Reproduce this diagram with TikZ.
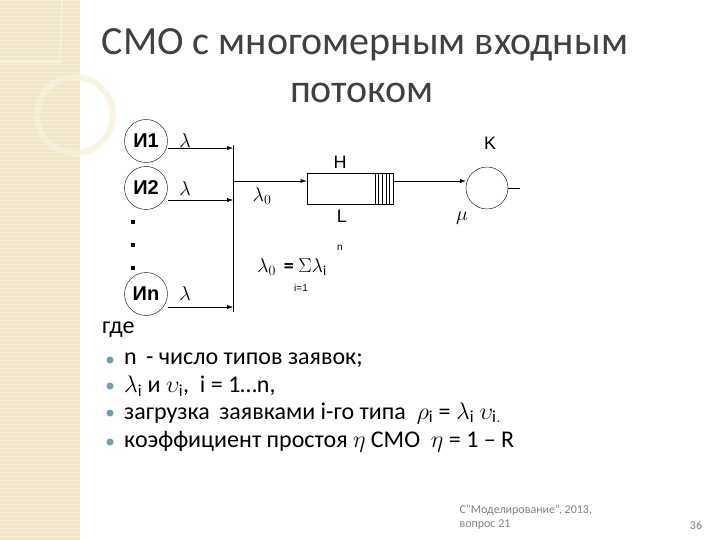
\RequirePackage{fix-cm}
\documentclass[tikz,border=0pt]{standalone}
\usepackage{fontspec}
\setmainfont{Carlito}
\newfontfamily\arialf{Liberation Sans}
\newfontfamily\serf{Liberation Serif}
\usetikzlibrary{arrows.meta}
\definecolor{beige}{RGB}{242,230,196}
\definecolor{beigel}{RGB}{248,240,218}
\definecolor{titlec}{RGB}{64,64,64}
\definecolor{bulc}{RGB}{110,160,170}
\tikzset{
  src/.style={circle,draw,thin,minimum size=43pt,inner sep=0pt,font=\arialf\bfseries\fontsize{20}{20}\selectfont},
  lab/.style={font=\fontsize{20}{20}\selectfont,inner sep=1pt},
  alab/.style={font=\arialf\fontsize{18}{18}\selectfont,inner sep=1pt},
  flow/.style={-{Latex[length=6pt,width=4pt]},thin},
  btxt/.style={anchor=west,font=\fontsize{24}{24}\selectfont,inner sep=0pt},
  bul/.style={circle,fill=bulc,minimum size=7pt,inner sep=0pt},
  dot/.style={fill=black,minimum size=3.5pt,inner sep=0pt}
}
\begin{document}
\begin{tikzpicture}[x=1pt,y=-1pt]
\useasboundingbox (0,0) rectangle (720,540);
\fill[white] (0,0) rectangle (720,540);
\fill[beige] (0,0) rectangle (80,540);
\foreach \i in {0,4,...,540} \draw[beigel,line width=0.8pt] (0,\i) -- (80,\i);
\draw[beigel,line width=6pt,opacity=0.8] (75,115) circle (38);
\draw[beigel,line width=2pt] (0,62) -- (60,62) -- (62,0);
% title
\node[font=\fontsize{40}{40}\selectfont,text=titlec] (t1) at (365,45) {СМО с многомерным входным};
\node[font=\fontsize{40}{40}\selectfont,text=titlec] (t2) at (362,93) {потоком};
% sources
\node[src] (s1) at (146,141) {И1};
\node[src] (s2) at (146,188) {И2};
\node[src] (sn) at (146,294) {Иn};
\node[lab] (l1) at (185,141) {$\lambda$};
\node[lab] (l2) at (185,189) {$\lambda$};
\node[lab] (ln) at (185,294) {$\lambda$};
\node[dot] (d1) at (133,222) {};
\node[dot] (d2) at (133,245) {};
\node[dot] (d3) at (133,268) {};
\coordinate (m1) at (233,148);
\coordinate (m2) at (233,200);
\coordinate (mn) at (233,307);
\coordinate (top) at (233,145);
\coordinate (bot) at (233,312);
\coordinate (mid) at (233,181);
\draw[flow] (s1.east |- m1) -- (m1);
\draw[flow] (s2.east |- m2) -- (m2);
\draw[flow] (sn.east |- mn) -- (mn);
\draw[thin] (top) -- (bot);
% queue
\node[draw,thick,minimum width=86pt,minimum height=31pt,inner sep=0pt] (q) at (350,188.5) {};
\foreach \k in {0,...,5} \draw[thin] (375+\k*3.6,173) -- (375+\k*3.6,204);
\draw[flow] (mid) -- (q.west |- mid);
\node[lab] (lam0) at (262,196) {$\lambda_0$};
\node[alab] (H) at (340,162) {H};
\node[alab] (L) at (342,216) {L};
\node[font=\arialf\fontsize{10}{10}\selectfont] (nn) at (340,248) {n};
\node[lab] (sum) at (292,267) {$\lambda_0$ \,\textbf{=} $\Sigma\lambda_{\mathrm i}$};
\node[font=\arialf\fontsize{10}{10}\selectfont] (i1) at (301,288) {i=1};
% server
\node[circle,draw,thin,minimum size=42pt,inner sep=0pt] (srv) at (487,188) {};
\draw[flow] (q.east |- mid) -- (srv.west |- mid);
\coordinate (out) at (520,188);
\draw[thin] (srv.east) -- (out);
\node[alab] (K) at (490,143) {K};
\node[lab] (mu) at (462,218) {$\mu$};
% text
\node[btxt] (g) at (102,330) {где};
\foreach \y/\t in {360/{n\, - число типов заявок;},
                   386/{$\lambda_{\mathrm i}$ и $\upsilon_{\mathrm i}$,\ \ i = 1…n,},
                   413/{загрузка\, заявками i-го типа\ \ $\rho_{\mathrm i}$ = $\lambda_{\mathrm i}$ $\upsilon_{\mathrm{i.}}$},
                   442/{коэффициент простоя $\eta$ СМО\ \ $\eta$ = 1 – R}}{
  \node[bul] at (110,\y) {};
  \node[btxt] at (124,\y) {\t};
}
% footer
\node[anchor=west,align=left,text=gray,font=\fontsize{12}{14}\selectfont] (f) at (456,517) {С"Моделирование", 2013,\\ вопрос 21};
\node[text=gray,font=\fontsize{12}{12}\selectfont] (pg) at (696,525) {36};
\end{tikzpicture}
\end{document}
